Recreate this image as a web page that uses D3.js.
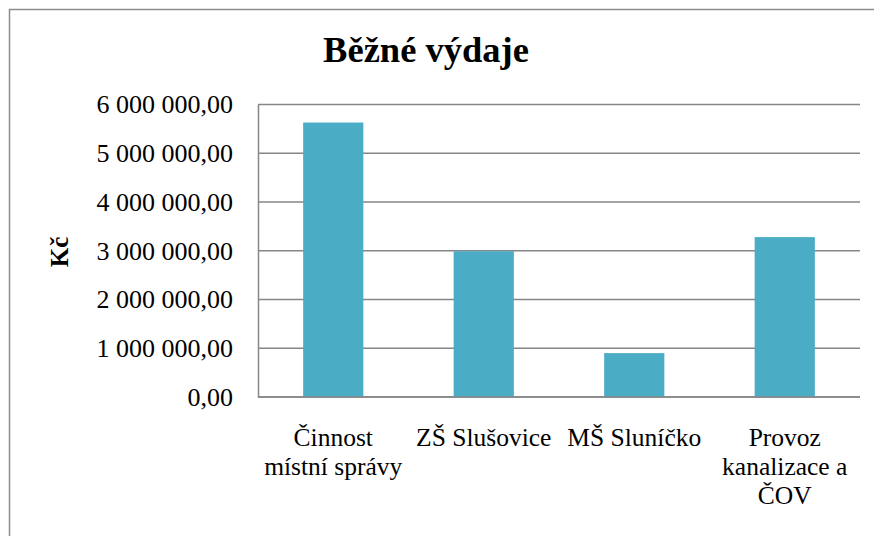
<!DOCTYPE html>
<html><head><meta charset="utf-8">
<script src="https://cdn.jsdelivr.net/npm/d3@7"></script>
<style>body{margin:0;background:#fff}svg{display:block}</style>
</head><body>
<script>
const title = "Běžné výdaje";
const yTitle = "Kč";
const categories = ["Činnost místní správy", "ZŠ Slušovice", "MŠ Sluníčko", "Provoz kanalizace a ČOV"];
const categoryLines = [["Činnost", "místní správy"], ["ZŠ Slušovice"], ["MŠ Sluníčko"], ["Provoz", "kanalizace a", "ČOV"]];
const values = [5630000, 2990000, 900000, 3280000];
const yTicks = [0, 1000000, 2000000, 3000000, 4000000, 5000000, 6000000];

const W = 874, H = 536;
const m = {left: 258, right: 15, top: 104.5, bottom: 139};
const FONT = '"Times New Roman"';
const svg = d3.select("body").append("svg").attr("width", W).attr("height", H);

svg.append("path").attr("d", `M9.5,${H} V9.5 H${W}`).attr("fill", "none")
  .attr("stroke", "#8c8c8c").attr("stroke-width", 1.5);

const x = d3.scaleBand().domain(categories).range([m.left, 860]).paddingInner(0.6).paddingOuter(0.3);
const y = d3.scaleLinear().domain([0, 6000000]).range([H - m.bottom, m.top]);

const fmt = v => d3.format(",.2f")(v).replace(/,/g, " ").replace(".", ",");

// gridlines
svg.append("g").selectAll("line").data(yTicks).join("line")
  .attr("x1", m.left).attr("x2", 860)
  .attr("y1", d => y(d)).attr("y2", d => y(d))
  .attr("stroke", "#868686").attr("stroke-width", 1.5);

// y axis
const ya = svg.append("g").attr("transform", `translate(${m.left},0)`)
  .call(d3.axisLeft(y).tickValues(yTicks).tickFormat(fmt).tickSize(0).tickPadding(25));
ya.attr("font-family", FONT).attr("font-size", 26);
ya.select(".domain").attr("stroke", "#868686").attr("stroke-width", 1.5);
ya.selectAll("text").style("font-family", FONT).style("font-size", "26px").attr("fill", "#000");

// bars
svg.append("g").selectAll("rect").data(values).join("rect")
  .attr("x", (d, i) => x(categories[i]))
  .attr("width", x.bandwidth())
  .attr("y", d => y(d))
  .attr("height", d => y(0) - y(d))
  .attr("fill", "#4BACC6");

// x axis line
svg.append("line").attr("x1", m.left).attr("x2", 860).attr("y1", y(0)).attr("y2", y(0))
  .attr("stroke", "#868686").attr("stroke-width", 1.5);

// x labels
categories.forEach((c, i) => {
  const t = svg.append("text").attr("text-anchor", "middle")
    .style("font-family", FONT).style("font-size", "25.5px").attr("fill", "#000");
  categoryLines[i].forEach((ln, j) => {
    t.append("tspan").attr("x", x(c) + x.bandwidth() / 2).attr("y", 446 + j * 29).text(ln);
  });
});

// title
svg.append("text").attr("x", 426).attr("y", 62).attr("text-anchor", "middle")
  .style("font-family", FONT).style("font-weight", "bold").style("font-size", "36.5px").text(title);

// y title
svg.append("text").attr("transform", "translate(68,252) rotate(-90)").attr("text-anchor", "middle")
  .style("font-family", FONT).style("font-weight", "bold").style("font-size", "25px").text(yTitle);
</script>
</body></html>
